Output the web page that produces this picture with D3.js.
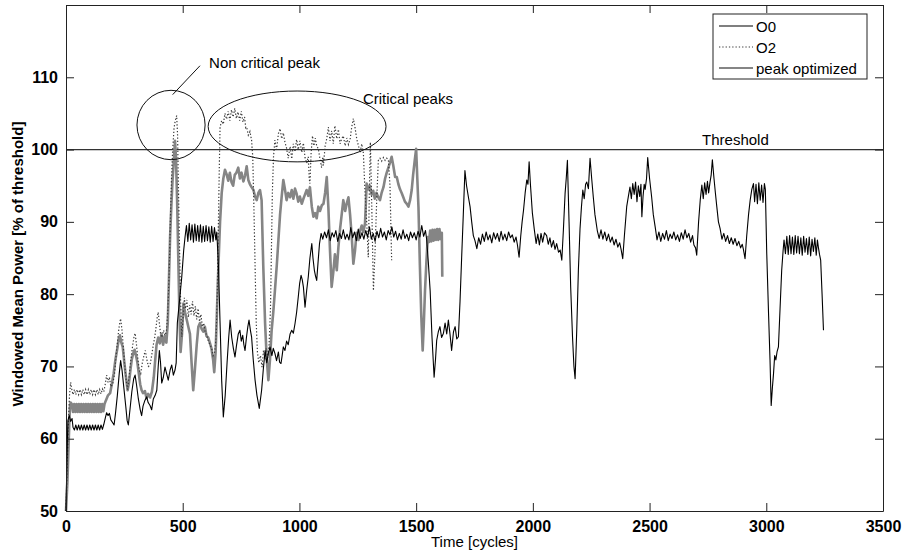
<!DOCTYPE html>
<html>
<head>
<meta charset="utf-8">
<script src="https://cdn.jsdelivr.net/npm/d3@7"></script>
<style>
  body { margin: 0; background: #fff; }
</style>
</head>
<body>
<div id="wrapper"></div>
<script>
// Data: [time in cycles, windowed mean power in % of threshold]

const o0Data = [
  [0,50],[4,57],[8,62.5],[14,63.2],[20,62.4],[26,62.8],[30,61.6],
  [36,61.2],[42,61.9],[48,61.2],[54,61.9],[60,61.2],[66,61.9],[72,61.2],[78,61.9],[84,61.2],[90,61.9],
  [96,61.2],[102,61.9],[108,61.2],[114,61.9],[120,61.2],[126,61.9],[132,61.2],[138,61.9],[144,61.2],
  [150,61.9],[156,61.3],[162,62.0],
  [168,62.8],[174,63.6],[180,63.2],[186,63.5],[192,62.6],[200,62.2],[206,61.9],[212,63.5],[220,66],
  [228,69],[234,70.8],[240,69.5],[248,67],[256,64.5],[262,62.5],[267,61.9],[274,64],[282,66.5],
  [290,68.3],[296,68.8],[302,67.5],[310,65.5],[318,64],[324,63.2],[330,64.5],[338,65.3],[346,65.8],
  [352,65],[360,64.6],[367,64],[374,65.5],[382,66],[389,66.7],[395,70],[400,72.2],[405,70.5],
  [410,67.7],[417,68.5],[424,69.9],[431,69],[438,68.1],[446,69.5],[453,70.2],[460,68.8],[467,69.5],
  [472,70.5],[477,76],[486,79],[496,82.4],[504,86],[510,87.9],
  [516,89.5],[522,87.3],[528,89.8],[534,87.5],[540,89.6],[546,87.2],[552,89.7],[558,87.4],[564,89.5],
  [570,87.3],[576,89.6],[582,87.2],[588,89.4],[594,87.3],[600,89.5],[606,87.4],[612,89.3],[618,87.2],
  [624,89.4],[630,87.3],[636,89.2],[642,87.5],[646,88.6],
  [653,84],[660,76],[667,68],[674,63],[682,66],[690,70.5],[697,74],[703,76.4],[710,74],[717,72.5],
  [724,71.3],[730,72.8],[738,74.5],[745,75],[751,73.5],[757,74.3],[762,73],[767,72.2],[773,74],
  [779,75.5],[784,76.4],[790,75],[795,74.1],[802,71],[810,68.1],[818,66],[828,64.2],[838,66.7],
  [845,69.5],[853,72.2],[860,70.5],[867,71.8],[874,72.7],[882,71.5],[888,72.5],[895,71.8],[902,70.8],
  [910,72],[915,70.6],[921,70.4],[926,71.5],[931,72.7],[938,72.2],[945,73.5],[952,73],[960,74.5],
  [967,75],[974,74.6],[981,75.9],[988,77.5],[995,79.6],[1001,81.5],[1007,82.6],[1012,82],[1017,81],
  [1024,78.2],[1031,80.5],[1038,82.4],[1045,85],[1053,87],[1058,85],[1064,83.3],[1069,82.5],
  [1074,81.9],[1080,84.5],[1086,87],[1093,88.4],
  [1100,87.6],[1108,88.6],[1116,87.8],[1124,88.9],[1132,87.4],[1140,88.5],[1148,87.9],[1156,88.8],
  [1164,87.3],[1172,88.4],[1180,87.7],[1188,88.9],[1196,87.6],[1204,88.3],[1212,87.5],[1220,89.2],
  [1228,87.8],[1236,88.6],[1244,87.4],[1252,89.0],[1260,87.7],[1268,88.5],[1276,87.6],[1284,88.8],
  [1292,87.9],[1300,89.3],[1308,87.6],[1316,88.4],[1324,87.3],[1332,88.7],[1340,87.8],[1348,89.1],
  [1356,87.9],[1364,88.6],[1372,87.5],[1380,88.8],[1388,88.2],[1396,89.3],[1404,87.9],[1412,88.7],
  [1420,87.5],[1428,88.4],[1436,87.6],[1444,88.9],[1452,87.7],[1460,88.3],[1468,87.4],[1476,88.6],
  [1484,87.8],[1492,88.5],[1500,87.5],[1508,88.7],[1516,87.9],[1524,89.5],[1532,88.0],[1540,88.8],
  [1545,87.6],
  [1552,84.5],[1560,80.5],[1568,74],[1577,68.5],[1583,71],[1588,73.6],[1595,74.8],[1602,75.5],
  [1609,74],[1617,74.6],[1624,76],[1631,74.5],[1638,76.4],[1645,74.5],[1652,72.2],[1660,74.8],
  [1667,75.5],[1674,73.8],[1681,74.1],[1688,79],[1695,85.1],[1702,91],[1709,97.1],[1716,95],
  [1724,93.4],[1731,92.1],[1738,90],[1745,88.1],
  [1752,87.4],[1760,86.3],[1768,87.8],[1776,86.9],[1784,88.3],[1792,87.3],[1800,88.6],[1808,87.5],
  [1816,88.2],[1824,87.1],[1832,88.5],[1840,87.6],[1848,88.4],[1856,87.3],[1864,88.7],[1872,87.5],
  [1880,88.3],[1888,87.4],[1896,88.6],[1904,87.8],[1912,88.2],[1920,87.2],[1928,87.9],[1934,86.8],
  [1941,85.1],
  [1948,88],[1954,90],[1960,91.6],[1967,94],[1974,95.8],[1979,95.2],[1984,98.3],[1990,95],[1998,91.2],
  [2006,89],[2014,87],[2021,88.3],[2028,86.8],[2035,88.4],[2042,87.2],[2050,88.5],[2059,88.1],
  [2066,86.9],[2073,87.8],[2080,86.5],[2088,87.4],[2095,86.2],[2102,87],[2110,85.8],[2117,86.1],
  [2124,84.7],[2131,89],[2138,93.9],[2143,96],[2148,98.5],[2155,90],[2162,81],[2170,74],[2176,70],
  [2181,68.3],[2188,75],[2195,83.3],[2202,89],[2208,92],[2214,94.4],[2220,93.2],[2226,95.2],
  [2231,95.5],[2238,94.6],[2245,98.8],[2252,96],[2259,93.4],[2266,91],[2276,88.8],
  [2284,87.7],[2292,88.9],[2300,87.6],[2308,88.6],[2316,87.4],[2324,88.3],[2332,87.2],[2340,87.9],
  [2348,86.8],[2356,87.6],[2364,86.5],[2372,87.1],[2378,86.2],[2385,84.9],
  [2392,88],[2402,92.1],[2409,93.5],[2416,94.8],[2422,93.2],[2428,95.3],[2434,93.8],[2440,95.5],
  [2446,92.8],[2452,95],[2458,93.5],[2463,95.2],[2467,90.7],[2472,93.5],[2477,95.2],[2481,94.5],
  [2487,96],[2492,98.9],[2500,96],[2509,93.4],[2516,91],[2524,89.3],
  [2532,87.5],[2540,88.6],[2548,87.3],[2556,88.4],[2564,87.6],[2572,88.8],[2580,87.4],[2588,88.3],
  [2596,87.7],[2604,88.6],[2612,87.5],[2620,88.2],[2628,87.3],[2636,88.5],[2644,87.6],[2652,88.9],
  [2660,87.8],[2668,88.4],[2676,87.2],[2684,88.1],[2690,86.8],[2697,86.4],[2702,85.4],
  [2710,90],[2717,93],[2724,95.1],[2730,93.2],[2736,95.4],[2742,93.8],[2748,95.6],[2753,94],
  [2759,95.5],[2764,96.5],[2769,98.6],[2776,96],[2782,94],[2788,92.1],[2795,90],[2802,89.1],
  [2810,87.6],[2818,88.4],[2826,87.3],[2834,88.1],[2842,87],[2850,87.8],[2858,86.9],[2866,87.7],
  [2874,86.7],[2882,87.3],[2890,86.4],[2897,86.9],[2902,86.2],[2909,84.9],
  [2916,88],[2924,91],[2931,93],[2938,94.5],[2945,95.3],[2950,92.8],[2956,95.2],[2962,92.5],
  [2968,95.4],[2974,93],[2980,95.1],[2986,92.7],[2992,95.3],[2996,94.5],[3002,85.6],[3010,77],
  [3016,70.9],[3021,64.6],[3026,67],[3031,69],[3036,71.5],[3041,70.9],[3046,72],[3052,72.7],
  [3059,78],[3066,83.3],[3072,86],[3076,87.5],
  [3082,85.6],[3088,88],[3094,85.5],[3100,88.1],[3106,85.6],[3112,87.9],[3118,85.5],[3124,88.1],
  [3130,85.7],[3136,88],[3142,85.6],[3148,87.8],[3154,85.4],[3160,88],[3166,85.8],[3172,87.7],
  [3178,85.5],[3184,87.9],[3190,85.3],[3196,87.6],[3202,85.9],[3208,87.8],[3214,85.4],[3219,87.5],
  [3223,86.5],[3228,85.5],[3233,84.7],[3239,80],[3245,75]
]

const o2Data = [
  [0,50],[5,56],[10,62],[15,66],[20,67.8],[25,66.8],
  [30,66.1],[36,66.8],[42,66.1],[48,66.8],[54,66.1],[60,66.8],[66,66.1],[72,66.8],[78,66.1],[84,66.8],
  [90,66.1],[96,66.8],[102,66.1],[108,66.8],[114,66.1],[120,66.8],[126,66.1],[132,66.8],[138,66.1],
  [144,66.8],[150,66.2],[156,66.9],[162,66.5],[168,67.5],[174,68.8],[180,67.8],[186,68.5],[192,67.2],
  [200,67.5],[208,69],[216,72],[224,74.5],[229,75.8],[234,76.6],[240,75],[246,72.5],[252,70],[258,68],
  [264,66.8],[270,68.5],[278,71],[286,73],[291,74],[296,74.6],[302,73],[308,71],[314,69.5],[320,69],
  [327,70.5],[334,71.5],[340,72.2],[346,71],[353,70],[360,70.2],[367,71.5],[374,73],[380,74],
  [386,75.5],[391,76.8],[395,77.5],[400,76],[405,74.5],[411,74],[418,75],[424,74.3],[430,74.8],
  [436,77.5],[442,83],[447,90],[452,96],[457,100],[463,103],[468,104],[474,104.7],[478,102],[481,96],
  [486,87],[491,79],[496,74.1],[502,77],[507,79.5],[512,78],[518,79.2],[524,76.8],[530,78.5],
  [536,77.2],[542,79],[548,77],[554,78.3],[560,76.5],[566,78],[572,76.2],[578,77.2],[584,75.5],
  [590,76],[596,74.8],[603,74.3],[610,73.5],[617,73],[624,72.5],[630,71.5],[637,72],[643,74],[648,80],
  [653,90],[657,98],[660,103.1],[667,104],[674,103.5],[681,105],[688,104.2],[695,105.3],[702,104],
  [709,105.5],[716,104.5],[723,105.7],[730,104.3],[737,105.2],[744,104],[751,105.3],[758,103.8],
  [765,104.5],[770,103],[774,103.1],[781,102],[788,102.5],[795,101.3],[800,99],[805,92],[810,84],
  [815,76],[820,72],[826,70.5],[833,71.5],[840,69.9],[846,72.2],[852,71],[858,72.5],[864,71.2],
  [870,73],[876,78],[880,86],[884,94],[889,99],[895,101.3],[902,100],[910,102.2],[917,102.9],
  [924,101.5],[931,102.3],[938,101],[945,100.2],[952,98.8],[960,100.4],[967,98.7],[974,100.8],
  [981,99.7],[988,101.4],[995,100],[1002,101.2],[1010,99.6],[1017,100.9],[1024,98.9],[1031,98.1],
  [1038,99],[1042,96],[1045,95.3],[1050,99.5],[1056,101.9],[1062,100.5],[1068,101.6],[1074,100.5],
  [1081,100.1],[1088,98.7],[1095,97.5],[1100,99],[1103,97.8],[1110,100.5],[1117,101.5],[1124,103.1],
  [1131,101.2],[1138,102.6],[1145,100.8],[1152,103.3],[1160,101.5],[1167,102.8],[1174,100.8],
  [1181,101.5],[1188,101.9],[1196,100.5],[1203,101.6],[1210,100.7],[1217,101.4],[1224,103.1],
  [1231,104.3],[1238,103.1],[1246,101.4],[1253,100.5],[1260,99.6],[1267,100.8],[1274,99.5],
  [1281,94],[1288,90],[1295,85.1],[1300,95],[1304,101],[1310,92],[1317,80.5],[1324,86],[1331,93],
  [1338,98.5],[1345,98.8],[1352,98.4],[1360,98.9],[1367,98.5],[1374,98.8],[1381,98.6],[1388,95],
  [1395,84.7]
]

const peakOptData = [
  [0,50],[6,54],[10,58],[14,62],[17,64.4],[20,65],
  [25,64.8],[30,63.7],[35,64.8],[40,63.7],[45,64.8],[50,63.7],[55,64.8],[60,63.7],[65,64.8],[70,63.7],
  [75,64.8],[80,63.7],[85,64.8],[90,63.7],[95,64.8],[100,63.7],[105,64.8],[110,63.7],[115,64.8],
  [120,63.7],[125,64.8],[130,63.7],[135,64.8],[140,63.7],[145,64.8],[150,63.7],[155,64.8],[160,63.8],
  [165,64.8],
  [171,65.3],[180,66],[189,66.3],[196,67.5],[204,69],[212,71],[220,72.5],[226,73.8],[231,74.3],
  [237,73.3],[243,72.7],[250,70.5],[257,68.5],[264,66.7],[270,67.8],[276,69.5],[282,71],[288,71.8],
  [294,72.3],[300,71.5],[306,70.5],[312,69],[318,67.5],[324,66.7],[330,66.3],[338,66.6],[345,65.6],
  [352,66.2],[360,65.7],[368,66.5],[376,68.5],[382,70.8],[388,73],[395,74],[402,73.2],[409,74.5],
  [416,73],[423,74.2],[430,73.3],[436,76],[441,82],[446,88],[451,92],[456,95.5],[461,98],[467,101.2],
  [471,99],[476,93],[481,85],[486,77],[491,72],[497,74.5],[503,78.7],[510,77.5],[517,76.5],
  [524,75.5],[531,74.5],[538,70.5],[545,66.7],[552,69.5],[560,73],[567,75.5],[574,76],[581,75.2],
  [588,74.8],[595,75.5],[602,74.2],[609,74],[616,73.3],[623,72.5],[630,71],[635,69.2],[641,72],
  [647,78],[653,84],[660,90],[667,94],[674,96],[681,97.2],[688,96.6],[695,95.7],[702,96.8],[709,95.5],
  [716,95],[723,96.5],[730,96.8],[738,97.5],[745,96],[752,96.8],[760,95.6],[767,96.4],[774,97.7],
  [781,95.8],[788,95.2],[795,94.8],[803,94.4],[810,93.5],[817,93],[824,94],[831,94.4],[838,93],
  [845,84],[853,75.9],[860,71],[867,68.1],[874,71],[881,75],[888,77.5],[895,80.5],[903,84],
  [910,87.5],[917,91],[924,93.5],[931,95.8],[938,94.5],[945,93],[952,94],[960,93.4],[967,94.4],
  [974,93.2],[981,94.6],[988,93.9],[995,92.8],[1002,93.5],[1010,92.5],[1017,93.2],[1024,93.8],
  [1031,94.4],[1038,93.6],[1045,94.8],[1053,92.1],[1060,90.7],[1067,91.2],[1074,90.5],[1081,92.1],
  [1088,91.5],[1096,92.3],[1103,92.5],[1110,94],[1117,96.2],[1124,92],[1131,86],[1138,81],[1145,83],
  [1152,85.5],[1160,83.3],[1167,86.5],[1174,89],[1181,91],[1188,93],[1196,91.5],[1203,92.6],
  [1210,93.4],[1217,91],[1224,88],[1231,84.2],[1238,86],[1245,88.5],[1253,87.5],[1260,88.8],
  [1267,89.5],[1274,88.6],[1281,89.8],[1288,95.3],[1295,94.5],[1302,95],[1309,93.8],[1316,94.3],
  [1323,93.2],[1330,94],[1338,93.4],[1345,93],[1352,94],[1360,94.8],[1367,96],[1374,96.8],
  [1381,97.5],[1388,98.2],[1395,99],[1402,97.8],[1410,96.2],[1417,96.2],[1424,95.2],[1431,94.5],
  [1438,94],[1445,93.4],[1452,92.8],[1460,92.5],[1467,92.1],[1474,93],[1481,94.4],[1487,96.5],
  [1494,98.5],[1500,100.1],[1505,96],[1510,92],[1516,84],[1522,77],[1528,72.2],[1533,76],
  [1538,80.5],[1544,84.5],[1550,87.9],
  [1555,87.2],[1560,88.8],[1565,87.3],[1570,88.9],[1575,87.4],[1580,88.9],[1585,87.5],[1590,89],
  [1595,87.5],[1600,89],[1605,87.6],[1610,88.5],[1612,82.4]
]

const xTicks = [0, 500, 1000, 1500, 2000, 2500, 3000, 3500]
const yTicks = [50, 60, 70, 80, 90, 100, 110]
const threshold = 100
const seriesNames = ["O0", "O2", "peak optimized"]

function drawChart() {

    // Dimensions
    let dimensions = {
        width: 910,
        height: 552,
        margin: {
            top: 5,
            right: 27,
            bottom: 41,
            left: 66,
        },
    }
    dimensions.boundedWidth = dimensions.width
        - dimensions.margin.left
        - dimensions.margin.right
    dimensions.boundedHeight = dimensions.height
        - dimensions.margin.top
        - dimensions.margin.bottom

    const fontFamily = "'Liberation Sans', Arial, Helvetica, sans-serif"

    // Canvas
    const wrapper = d3.select("#wrapper")
        .append("svg")
        .attr("width", dimensions.width)
        .attr("height", dimensions.height)
        .style("display", "block")

    const bounds = wrapper.append("g")
        .attr("transform", `translate(${dimensions.margin.left}, ${dimensions.margin.top})`)

    // Scales
    const xScale = d3.scaleLinear()
        .domain([0, 3500])
        .range([0, dimensions.boundedWidth])

    const yScale = d3.scaleLinear()
        .domain([50, 120])
        .range([dimensions.boundedHeight, 0])

    const lineGenerator = d3.line()
        .x(d => xScale(d[0]))
        .y(d => yScale(d[1]))

    // Threshold
    bounds.append("line")
        .attr("x1", 0)
        .attr("x2", dimensions.boundedWidth)
        .attr("y1", yScale(threshold))
        .attr("y2", yScale(threshold))
        .attr("stroke", "#333")
        .attr("stroke-width", 1.2)

    // Series (gray underneath, then dotted, then black)
    bounds.append("path")
        .datum(peakOptData)
        .attr("d", lineGenerator)
        .attr("fill", "none")
        .attr("stroke", "#858585")
        .attr("stroke-width", 2.6)
        .attr("stroke-linejoin", "round")

    bounds.append("path")
        .datum(o2Data)
        .attr("d", lineGenerator)
        .attr("fill", "none")
        .attr("stroke", "#3a3a3a")
        .attr("stroke-width", 1.2)
        .attr("stroke-dasharray", "1.3,2")

    bounds.append("path")
        .datum(o0Data)
        .attr("d", lineGenerator)
        .attr("fill", "none")
        .attr("stroke", "#000")
        .attr("stroke-width", 1.1)
        .attr("stroke-linejoin", "round")

    // Axes, MATLAB style: ticks inside, box all round
    const tickFormat = d3.format("d")
    const xAxis = bounds.append("g")
        .attr("transform", `translate(0, ${dimensions.boundedHeight})`)
        .call(d3.axisBottom(xScale).tickValues(xTicks).tickFormat(tickFormat)
            .tickSize(-8).tickSizeOuter(0).tickPadding(10))
    const xAxisTop = bounds.append("g")
        .call(d3.axisTop(xScale).tickValues(xTicks).tickSize(-8).tickSizeOuter(0).tickFormat(""))
    const yAxis = bounds.append("g")
        .call(d3.axisLeft(yScale).tickValues(yTicks).tickFormat(tickFormat)
            .tickSize(-8).tickSizeOuter(0).tickPadding(8))
    const yAxisRight = bounds.append("g")
        .attr("transform", `translate(${dimensions.boundedWidth}, 0)`)
        .call(d3.axisRight(yScale).tickValues(yTicks).tickSize(-8).tickSizeOuter(0).tickFormat(""))

    bounds.selectAll(".domain, .tick line")
        .attr("stroke", "#222")
    bounds.selectAll(".tick text")
        .attr("fill", "#000")
        .attr("font-family", fontFamily)
        .attr("font-size", 16)
        .attr("font-weight", "bold")

    // Axis labels
    wrapper.append("text")
        .attr("x", dimensions.margin.left + dimensions.boundedWidth / 2)
        .attr("y", dimensions.height - 5)
        .attr("text-anchor", "middle")
        .attr("font-family", fontFamily)
        .attr("font-size", 15)
        .text("Time [cycles]")

    wrapper.append("text")
        .attr("transform", `translate(23, ${dimensions.margin.top + dimensions.boundedHeight / 2 + 6}) rotate(-90)`)
        .attr("text-anchor", "middle")
        .attr("font-family", fontFamily)
        .attr("font-size", 15)
        .attr("font-weight", "bold")
        .text("Windowed Mean Power [% of threshold]")

    // Annotations
    const annotations = bounds.append("g")
        .attr("font-family", fontFamily)
        .attr("font-size", 15)
        .attr("fill", "#000")

    annotations.append("ellipse")
        .attr("cx", xScale(450))
        .attr("cy", yScale(103.4))
        .attr("rx", xScale(146) - xScale(0))
        .attr("ry", yScale(50) - yScale(54.8))
        .attr("fill", "none")
        .attr("stroke", "#111")

    annotations.append("ellipse")
        .attr("cx", xScale(990))
        .attr("cy", yScale(103.2))
        .attr("rx", xScale(381) - xScale(0))
        .attr("ry", yScale(50) - yScale(54.9))
        .attr("fill", "none")
        .attr("stroke", "#111")

    annotations.append("line")
        .attr("x1", xScale(457))
        .attr("y1", yScale(107.6))
        .attr("x2", xScale(574))
        .attr("y2", yScale(111.6))
        .attr("stroke", "#111")

    annotations.append("text")
        .attr("x", xScale(613))
        .attr("y", yScale(111.3))
        .text("Non critical peak")

    annotations.append("text")
        .attr("x", xScale(1272))
        .attr("y", yScale(106.3))
        .text("Critical peaks")

    annotations.append("text")
        .attr("x", xScale(2725))
        .attr("y", yScale(100.7))
        .text("Threshold")

    // Legend
    const legend = wrapper.append("g")
        .attr("transform", "translate(713, 14)")
        .attr("font-family", fontFamily)
        .attr("font-size", 15)

    legend.append("rect")
        .attr("width", 154)
        .attr("height", 65)
        .attr("fill", "#fff")
        .attr("stroke", "#222")

    const legendStyles = [
        {stroke: "#000", width: 1.1, dash: null},
        {stroke: "#3a3a3a", width: 1.2, dash: "1.3,2"},
        {stroke: "#858585", width: 2, dash: null},
    ]

    seriesNames.forEach((name, i) => {
        const row = legend.append("g")
            .attr("transform", `translate(0, ${12 + i * 21})`)
        row.append("line")
            .attr("x1", 6)
            .attr("x2", 40)
            .attr("stroke", legendStyles[i].stroke)
            .attr("stroke-width", legendStyles[i].width)
            .attr("stroke-dasharray", legendStyles[i].dash)
        row.append("text")
            .attr("x", 43)
            .attr("y", 5.5)
            .text(name)
    })
}
drawChart()
</script>
</body>
</html>
